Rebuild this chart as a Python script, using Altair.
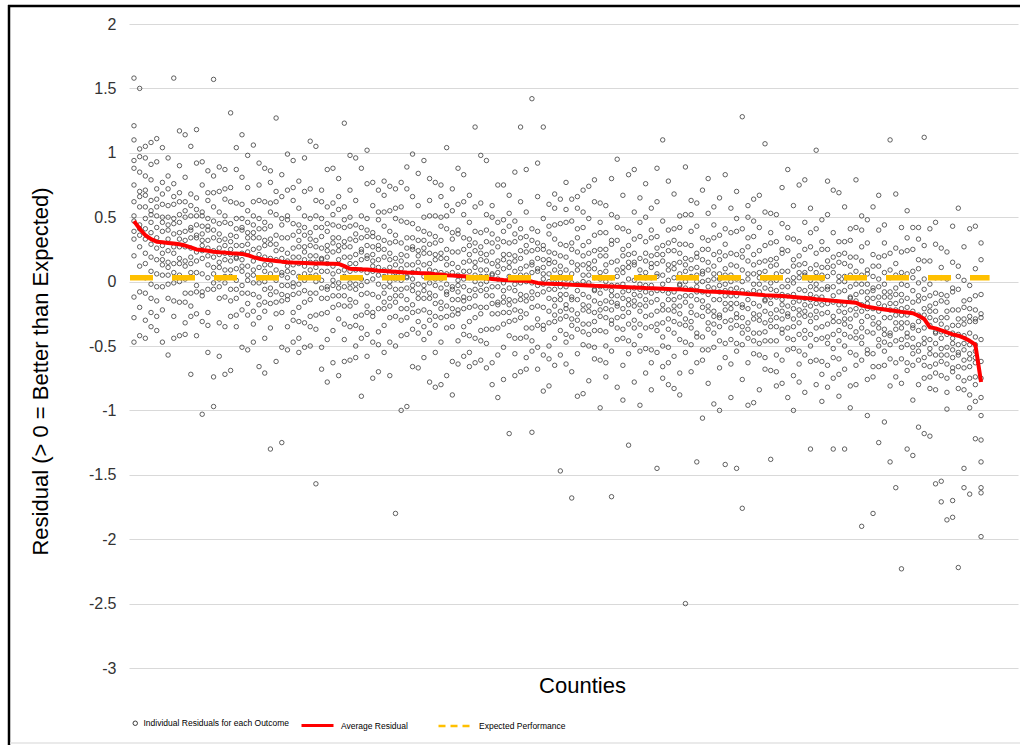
import altair as alt
import pandas as pd

# ---------------- data ----------------
# Average residual per county, counties sorted from best to worst (150 counties)
AVG = [
    .47, .41, .36, .33, .31, .305, .30, .295, .29, .28,
    .265, .25, .245, .24, .232, .228, .225, .22, .218, .215,
    .205, .19, .178, .17, .165, .16, .155, .151, .148, .147,
    .145, .143, .141, .14, .139, .138, .137, .12, .10, .098,
    .095, .094, .09, .085, .082, .079, .076, .073, .07, .068,
    .066, .065, .062, .058, .055, .05, .047, .044, .041, .037,
    .033, .029, .025, .021, .017, .013, .011, .009, .007, .006,
    0.0, -.01, -.014, -.016, -.018, -.019, -.022, -.025, -.027, -.029,
    -.031, -.033, -.034, -.036, -.038, -.04, -.042, -.044, -.046, -.048,
    -.05, -.051, -.053, -.055, -.057, -.059, -.06, -.063, -.066, -.07,
    -.074, -.077, -.078, -.08, -.083, -.086, -.089, -.092, -.096, -.099,
    -.102, -.105, -.107, -.109, -.112, -.116, -.12, -.124, -.128, -.132,
    -.137, -.141, -.145, -.149, -.152, -.156, -.16, -.164, -.185, -.196,
    -.203, -.21, -.217, -.222, -.228, -.235, -.24, -.246, -.265, -.29,
    -.355, -.363, -.378, -.395, -.41, -.42, -.437, -.46, -.49, -.78,
]

# Individual outcome residuals per county, in hundredths
RESID_HUNDREDTHS = [
    "158 121 47 88 33 62 -12 110 51 75 -47 39 20 94 -28",
    "150 -8 70 103 44 27 -42 58 97 36 12 85 -20 66 41",
    "105 14 49 82 -30 33 96 58 3 -44 67 41 22 -9 71",
    "91 -2 38 108 55 -35 19 63 46 79 8 -13 29 -24 52",
    "17 111 64 -4 42 93 26 51 -38 72 34 6 -15 58 -27",
    "39 5 17 77 28 60 -22 50 -4 104 22 46 -47 68 13",
    "33 -2 72 15 50 -13 40 96 24 5 59 -57 82 11 44",
    "37 14 60 27 -15 76 7 45 -27 22 158 66 -1 -44 49",
    "18 46 27 0 69 38 -16 52 14 90 -42 33 62 5 117",
    "27 50 -9 39 12 81 2 32 -32 62 16 114 55 -16 -41",
    "7 40 19 59 -27 51 26 -9 105 42 -19 68 14 34 -72",
    "16 44 -8 51 34 -25 7 92 23 65 -42 36 -3 118 56",
    "37 18 51 -8 -11 28 75 6 43 -31 93 24 54 -103 32",
    "40 20 3 63 -24 32 49 -6 86 13 -34 69 26 -55 43",
    "47 11 24 -74 40 -1 82 19 58 -97 34 -6 157 6 69",
    "26 15 37 2 -4 45 21 54 -13 70 -32 89 11 -58 32",
    "46 22 4 33 -12 64 28 -35 9 87 -1 51 -72 17 72",
    "36 -6 16 62 9 31 -27 45 131 21 -15 73 -69 4 25",
    "28 -13 49 18 41 -6 87 10 61 -26 19 104 1 -35 35",
    "17 40 42 8 -9 28 -22 60 22 81 -3 -51 49 12 114",
    "12 46 34 -26 23 -9 73 1 55 -53 29 5 98 -17 38",
    "16 51 -23 34 -1 62 9 -47 25 44 -10 106 -33 38 5",
    "11 34 -12 21 63 -28 41 3 75 26 -66 -18 49 92 -1",
    "28 0 19 46 -23 8 62 -6 32 -44 88 13 -16 41 -71",
    "18 -5 54 6 33 -36 43 13 77 -17 29 -130 -10 61 86",
    "36 3 24 -16 70 -8 17 52 -62 1 62 -25 29 9 127",
    "25 -3 49 -10 7 66 34 -51 18 -24 83 5 44 -125 -15",
    "3 22 -11 48 51 12 -35 34 -3 71 -53 16 -14 99 8",
    "-1 19 36 -24 63 7 -10 45 -47 26 73 -30 13 94 -4",
    "-9 27 14 57 -2 39 -44 19 -20 78 4 44 -55 32 -31",
    "12 23 1 36 42 -7 17 -16 51 -32 70 -51 27 96 6",
    "-9 15 33 4 49 -27 9 72 28 -50 38 -14 109 20 -35",
    "0 42 20 -26 27 5 63 -9 -157 15 51 -37 105 32 11",
    "8 49 -13 18 -5 42 -51 26 -25 62 17 -68 35 71 1",
    "19 -4 -6 28 45 8 58 -24 14 -45 39 87 -13 24 -78",
    "23 -11 1 61 12 44 -38 34 -20 88 6 30 -63 52 -3",
    "17 -18 56 -1 34 -29 24 80 8 -11 43 -73 66 -5 28",
    "19 -4 42 9 -33 58 -11 27 -45 4 123 48 -19 -62 31",
    "-1 27 8 -19 50 19 -35 33 -5 71 -61 14 43 -14 98",
    "9 32 -27 21 -6 63 -16 14 -50 44 -2 96 37 -34 -59",
    "-10 23 2 42 -44 34 9 -26 88 25 -36 51 -3 17 -89",
    "0 28 -24 35 18 -41 -9 76 7 49 -58 20 -19 102 40",
    "21 2 35 -24 -27 12 59 -10 27 -47 77 8 38 -75 16",
    "25 5 -12 48 -39 17 34 -21 71 -2 -49 54 11 -70 28",
    "32 -4 9 -34 25 -16 67 4 43 -55 19 -21 78 -9 54",
    "11 0 22 -13 -19 30 6 39 -28 55 -47 74 -4 -73 17",
    "31 7 -11 18 -27 49 13 -50 -6 72 -16 36 -180 2 57",
    "21 -21 1 47 -6 16 -42 30 77 6 -30 58 -100 -11 10",
    "13 -28 34 3 26 -21 72 -5 46 -41 4 89 -14 -97 20",
    "2 25 27 -7 -24 13 -37 45 7 66 -18 -66 34 -3 99",
    "-2 32 20 -40 9 -23 59 -13 41 -67 15 -9 84 -31 24",
    "4 39 -35 22 -13 50 -3 -59 13 32 -22 94 -45 26 -7",
    "-1 22 -24 9 51 -40 29 -9 63 14 -78 -30 37 80 -13",
    "17 -11 8 35 -34 -3 51 -17 21 -55 77 2 -27 30 -82",
    "7 -16 43 -5 22 -47 32 2 66 -28 18 -80 -21 50 75",
    "25 -8 13 -27 59 -19 6 41 -73 -10 51 -36 18 -2 104",
    "14 -14 38 -21 -4 55 23 -62 7 -35 72 -6 33 -88 -26",
    "-8 11 -22 37 40 1 -46 23 -14 60 -64 5 -25 88 -3",
    "-12 8 25 -35 52 -4 -21 34 -58 15 62 -41 2 83 -15",
    "-20 16 3 46 -13 28 -55 8 -31 67 -7 33 -66 21 -42",
    "0 11 -11 24 30 -19 5 -28 39 -44 58 -63 15 120 -6",
    "-20 4 22 -7 38 -38 -2 61 17 -61 27 -25 98 9 -46",
    "-11 31 9 -37 16 -6 52 -20 -67 4 40 -48 94 21 0",
    "-4 37 -25 6 -17 30 -63 14 -37 50 5 -80 23 59 -11",
    "7 -16 -18 16 33 -4 46 -36 2 -57 27 75 -25 12 -90",
    "10 -24 -12 48 -1 31 -51 21 -33 75 -7 17 -76 39 -16",
    "4 -31 43 -14 21 -42 11 67 -5 -24 30 -118 53 -18 15",
    "8 -15 31 -2 -44 47 -22 16 -56 -7 85 37 -30 -73 20",
    "-10 18 -1 -28 41 10 -44 24 -14 62 -70 5 34 -23 120",
    "0 23 -36 12 -15 54 -25 5 -59 35 -11 87 28 -43 -68",
    "-20 13 -8 32 -54 24 -1 -36 142 15 -46 41 -13 7 -117",
    "-10 18 -34 25 8 -51 -19 66 -3 39 -68 10 -29 92 30",
    "11 -8 25 -34 -37 2 49 -20 17 -57 120 -2 28 -85 6",
    "14 -6 -23 37 -50 6 23 -32 60 -13 -60 43 0 -81 17",
    "22 -14 -1 -44 15 -26 57 -6 33 -65 9 -31 68 -19 44",
    "1 -10 12 -23 -29 20 -4 29 -38 45 -57 64 -14 -147 7",
    "-18 2 19 -41 46 -10 -27 28 -64 9 56 -47 -4 77 -21",
    "6 -22 30 -29 -12 47 15 -70 -1 -43 64 -14 25 -168 -34",
    "-2 -25 34 -14 13 -56 23 -7 57 -37 9 -89 -30 41 66",
    "-10 13 -33 0 42 -49 20 -18 54 5 -87 -39 28 71 -22",
    "-12 22 10 -50 -1 -33 49 -23 31 -77 5 -19 74 -41 14",
    "3 -38 24 -7 16 -31 62 -15 36 -51 -6 79 -24 -60 10",
    "20 -4 -22 7 -38 38 2 -61 -17 61 -27 25 -98 -9 46",
    "-28 8 -5 38 -21 20 -63 0 -39 59 -15 25 -74 13 -50",
    "-16 3 -30 29 32 -7 -54 15 -22 52 -167 -3 -33 80 -11",
    "16 -17 4 -36 50 -28 -3 32 -82 -19 42 -45 9 -11 95",
    "7 -21 -2 25 -44 -13 41 -27 11 -65 67 -8 -37 20 -92",
    "-7 28 -46 11 -24 39 -14 -127 2 21 -33 83 -56 15 -18",
    "-10 13 15 -19 -36 1 -49 33 -5 54 -30 -78 22 -15 87",
    "9 -33 -11 35 -18 4 -54 18 65 -6 -42 46 -96 -23 -2",
    "-8 3 -19 16 22 -27 -3 -36 31 -52 50 -71 7 76 -14",
    "11 -9 -26 34 -53 3 20 -35 57 -16 -63 40 -3 -84 14",
    "-14 14 -38 21 4 -55 -23 62 -7 35 -145 6 -33 88 26",
    "-7 16 -43 5 -22 47 -32 -2 -66 28 -18 110 21 -50 -75",
    "1 -22 24 -9 -51 40 -29 9 -63 -14 78 30 -37 -80 13",
    "3 -31 -19 41 -8 24 -58 14 -40 68 -14 10 -83 32 -23",
    "-12 29 -33 -2 -25 22 -71 6 -45 42 -3 -88 15 51 -19",
    "-29 -5 13 -16 29 -47 -11 52 8 -250 18 -34 89 0 -55",
    "17 -19 -6 -49 10 -31 52 -11 28 -70 4 -36 63 -24 39",
    "5 -14 19 -40 -43 -4 43 -26 11 -63 61 -8 22 -140 0",
    "-27 6 -15 25 -61 17 -8 -43 71 8 -53 34 -20 0 -106",
    "-19 9 -10 -37 32 1 -53 15 -23 53 -79 -4 25 -32 80",
    "-5 -40 34 -23 12 -51 2 58 -14 -33 21 -95 44 -27 6",
    "-3 -26 -28 6 23 -14 36 -46 -8 -67 17 65 -35 2 -100",
    "-22 20 -2 -48 5 -17 41 -31 -142 -7 29 -59 83 10 -11",
    "-6 -17 5 -30 -36 13 -11 22 -45 38 -64 57 -21 -90 0",
    "-25 -5 12 -48 39 -17 -34 21 -145 2 49 -54 -11 70 -28",
    "0 -28 24 -35 -18 41 9 -76 -7 -49 128 -20 19 -176 -40",
    "-9 -32 27 -21 6 -63 16 -14 50 -44 2 -96 -37 34 59",
    "-17 6 -40 -7 35 -56 13 -25 47 -2 -94 -46 21 64 -29",
    "-19 15 3 -57 -8 -40 42 -30 24 -84 -2 -26 67 -48 7",
    "-5 -46 16 -15 8 -39 54 -23 28 -59 -14 107 -32 -68 2",
    "12 -12 -30 -1 -46 30 -6 -69 -25 53 -35 17 -138 -17 38",
    "-35 1 -12 31 -28 13 -70 -7 -46 52 -22 18 -81 6 -57",
    "-23 -4 -37 22 25 -14 -61 8 -29 45 -79 -10 -40 73 -18",
    "8 -25 -4 -44 42 -36 -11 24 -90 -27 34 -53 1 -19 87",
    "-1 -29 -10 17 -52 -21 33 -35 3 -73 59 -16 -45 12 -100",
    "-15 20 -54 3 -32 31 -22 -78 -6 13 -41 75 -64 7 -26",
    "-18 5 7 -27 -44 -7 -57 25 -13 46 -38 -86 14 -23 79",
    "1 -41 -19 27 -26 -4 -62 10 57 -14 -50 38 -130 -31 -10",
    "-17 -6 -28 7 13 -36 -12 -45 22 -61 41 -80 -2 102 -23",
    "2 -18 -35 25 -62 -6 11 -44 48 -25 -72 31 -12 -93 5",
    "-24 4 -48 11 -6 -65 -33 52 -17 25 -82 -4 -43 78 16",
    "-16 7 -52 -4 -31 38 -41 -11 -75 19 -27 71 12 -59 -130",
    "-8 -31 15 -18 -60 31 -38 0 -72 -23 69 21 -46 -89 4",
    "-7 -41 -29 31 -18 14 -68 4 -50 58 -24 0 -130 22 -33",
    "-22 19 -43 -12 -35 12 -81 -4 -55 32 -13 -98 5 41 -29",
    "-39 -15 3 -26 19 -57 -21 42 -2 -80 8 -44 79 -10 -65",
    "5 -31 -18 -61 -2 -43 40 -23 16 -190 -8 -48 51 -36 27",
    "-8 -27 6 -53 -56 -17 30 -39 -2 -76 48 -21 9 -104 -13",
    "-40 -7 -28 12 -74 4 -21 -56 58 -5 -66 21 -33 -13 -180",
    "-32 -4 -23 -50 19 -12 -66 2 -36 40 -125 -17 12 -45 67",
    "-19 -54 20 -37 -2 -65 -12 44 -28 -47 7 -109 30 -41 -8",
    "-17 -40 -42 -8 9 -28 22 -60 -22 -81 3 110 -49 -12 -140",
    "-37 5 -17 -63 -10 -32 26 -46 -160 -22 14 -74 68 -5 -26",
    "-21 -32 -10 -45 -51 -2 -26 7 -60 23 -79 42 -36 -223 -15",
    "-40 -20 -3 -63 24 -32 -49 6 -130 -13 34 -69 -26 55 -43",
    "-16 -44 8 -51 -34 25 -7 -92 -23 -65 42 -36 3 -135 -56",
    "-26 -49 10 -38 -11 -80 -1 -31 33 -61 -15 -113 -54 17 42",
    "-36 -13 -59 -26 16 -75 -6 -44 28 -21 -118 -65 2 112 -48",
    "-45 -11 -23 -83 -34 -66 16 -56 -2 -120 -28 -52 41 -74 -19",
    "-30 -71 -9 -40 -17 -64 29 -48 3 -84 -39 46 -57 -157 -23",
    "-15 -39 -57 -28 -73 3 -33 -155 -52 26 -62 -10 -171 -44 11",
    "-64 -28 -41 2 -57 -16 -99 -36 -75 23 -51 -11 -185 -23 -86",
    "-53 -34 -67 -8 -5 -44 -170 -22 -59 15 -183 -40 -70 43 -48",
    "-22 -55 -34 -74 12 -66 -41 -6 -222 -57 4 -83 -29 -49 57",
    "-33 -61 -42 -15 -84 -53 1 -67 -29 -145 27 -48 -77 -20 -160",
    "-49 -14 -88 -31 -66 -3 -56 -165 -40 -21 -75 41 -98 -27 -60",
    "-54 -31 -29 -63 -80 -43 -93 -11 -49 10 -74 -122 -22 -59 43",
    "30 -198 17 -45 -28 -62 -10 -75 -104 -90 -140 -123 -160 -164 -25",
]

# Expected performance reference line (x extent in county units, y value)
EXP_X = [0.3, 151.5]
EXP_Y = [0.03, 0.03]

Y_TICKS = [-3, -2.5, -2, -1.5, -1, -0.5, 0, 0.5, 1, 1.5, 2]

LBL_PTS = "Individual Residuals for each Outcome"
LBL_AVG = "Average Residual"
LBL_EXP = "Expected Performance"

# ---------------- tables ----------------
rows = []
for i, s in enumerate(RESID_HUNDREDTHS):
    for v in s.split():
        rows.append({"county": i + 1, "resid": int(v) / 100.0, "pt": LBL_PTS})
pts = pd.DataFrame(rows)
avg_df = pd.DataFrame({"county": list(range(1, len(AVG) + 1)), "avg": AVG, "av": LBL_AVG})
exp_df = pd.DataFrame({"county": EXP_X, "val": EXP_Y, "ex": LBL_EXP})

# ---------------- styling ----------------
FONT = "Liberation Sans"
PT_COLOR = "#3a3a3a"
RED = "#FF0000"
GOLD = "#FFC000"
W, H = 889, 644

xscale = alt.Scale(domain=[0.125, 156.5], nice=False, zero=False)
yscale = alt.Scale(domain=[-3, 2], nice=False, zero=False)

xaxis = alt.Axis(labels=False, ticks=False, domain=False, grid=False,
                 title="Counties", titleFont=FONT, titleFontSize=22,
                 titleFontWeight="normal", titleColor="#000000",
                 titleX=453, titleY=24, titleBaseline="alphabetic", titleAlign="center")
yaxis = alt.Axis(values=Y_TICKS, labelExpr="'' + datum.value", grid=True,
                 gridColor="#d9d9d9", gridWidth=1, domain=False, ticks=False,
                 labelFont=FONT, labelFontSize=16, labelColor="#333333", labelPadding=13,
                 title="Residual (> 0 = Better than Expected)", titleFont=FONT,
                 titleFontSize=22, titleFontWeight="normal", titleColor="#000000",
                 titleX=-82, titleY=347, titleAlign="center", titleBaseline="alphabetic")

def leg(x, y, **kw):
    return alt.Legend(orient="none", legendX=x, legendY=y, title=None,
                      labelFont=FONT, labelFontSize=8.5, labelColor="#000000",
                      labelLimit=400, padding=0, **kw)

points = alt.Chart(pts).mark_point(
    filled=False, size=20, strokeWidth=0.8, color=PT_COLOR, opacity=1
).encode(
    x=alt.X("county:Q", scale=xscale, axis=xaxis),
    y=alt.Y("resid:Q", scale=yscale, axis=yaxis),
    shape=alt.Shape("pt:N", scale=alt.Scale(domain=[LBL_PTS], range=["circle"]),
                    legend=leg(2, 695, symbolSize=20, symbolStrokeColor=PT_COLOR,
                               symbolFillColor="transparent", symbolStrokeWidth=1,
                               labelOffset=4)),
)

avg_line = alt.Chart(avg_df).mark_line(strokeWidth=4, strokeJoin="round").encode(
    x=alt.X("county:Q", scale=xscale),
    y=alt.Y("avg:Q", scale=yscale),
    color=alt.Color("av:N", scale=alt.Scale(domain=[LBL_AVG], range=[RED]),
                    legend=leg(171, 684, symbolType="stroke", symbolSize=1024,
                               symbolStrokeWidth=3, labelOffset=6)),
)

exp_line = alt.Chart(exp_df).mark_line(
    color=GOLD, strokeWidth=5.5, strokeDash=[23, 19], strokeCap="butt"
).encode(
    x=alt.X("county:Q", scale=xscale),
    y=alt.Y("val:Q", scale=yscale),
    opacity=alt.Opacity("ex:N", scale=alt.Scale(domain=[LBL_EXP], range=[1]),
                        legend=leg(308, 684, symbolType="stroke", symbolSize=1089,
                                   symbolStrokeColor=GOLD, symbolDash=[7, 5],
                                   symbolStrokeWidth=2.5, labelOffset=6)),
)

one = pd.DataFrame({"k": [0]})
frame_left = alt.Chart(one).mark_rule(color="#000000", strokeWidth=2.5).encode(
    x=alt.value(-120), y=alt.value(-19), y2=alt.value(721))
frame_top = alt.Chart(one).mark_rule(color="#000000", strokeWidth=2.5).encode(
    x=alt.value(-121), x2=alt.value(W + 10), y=alt.value(-18))
frame_bottom = alt.Chart(one).mark_rule(color="#e3e3e3", strokeWidth=1.5).encode(
    x=alt.value(-119), x2=alt.value(W + 10), y=alt.value(719))

chart = alt.layer(points, avg_line, exp_line, frame_left, frame_top, frame_bottom).properties(
    width=W, height=H,
    padding={"left": 129, "top": 24, "right": 2, "bottom": 77},
    autosize=alt.AutoSizeParams(type="none"),
    background="#ffffff",
).configure_view(strokeWidth=0)

chart.save("out.html", embed_options={"renderer": "svg", "actions": False})
